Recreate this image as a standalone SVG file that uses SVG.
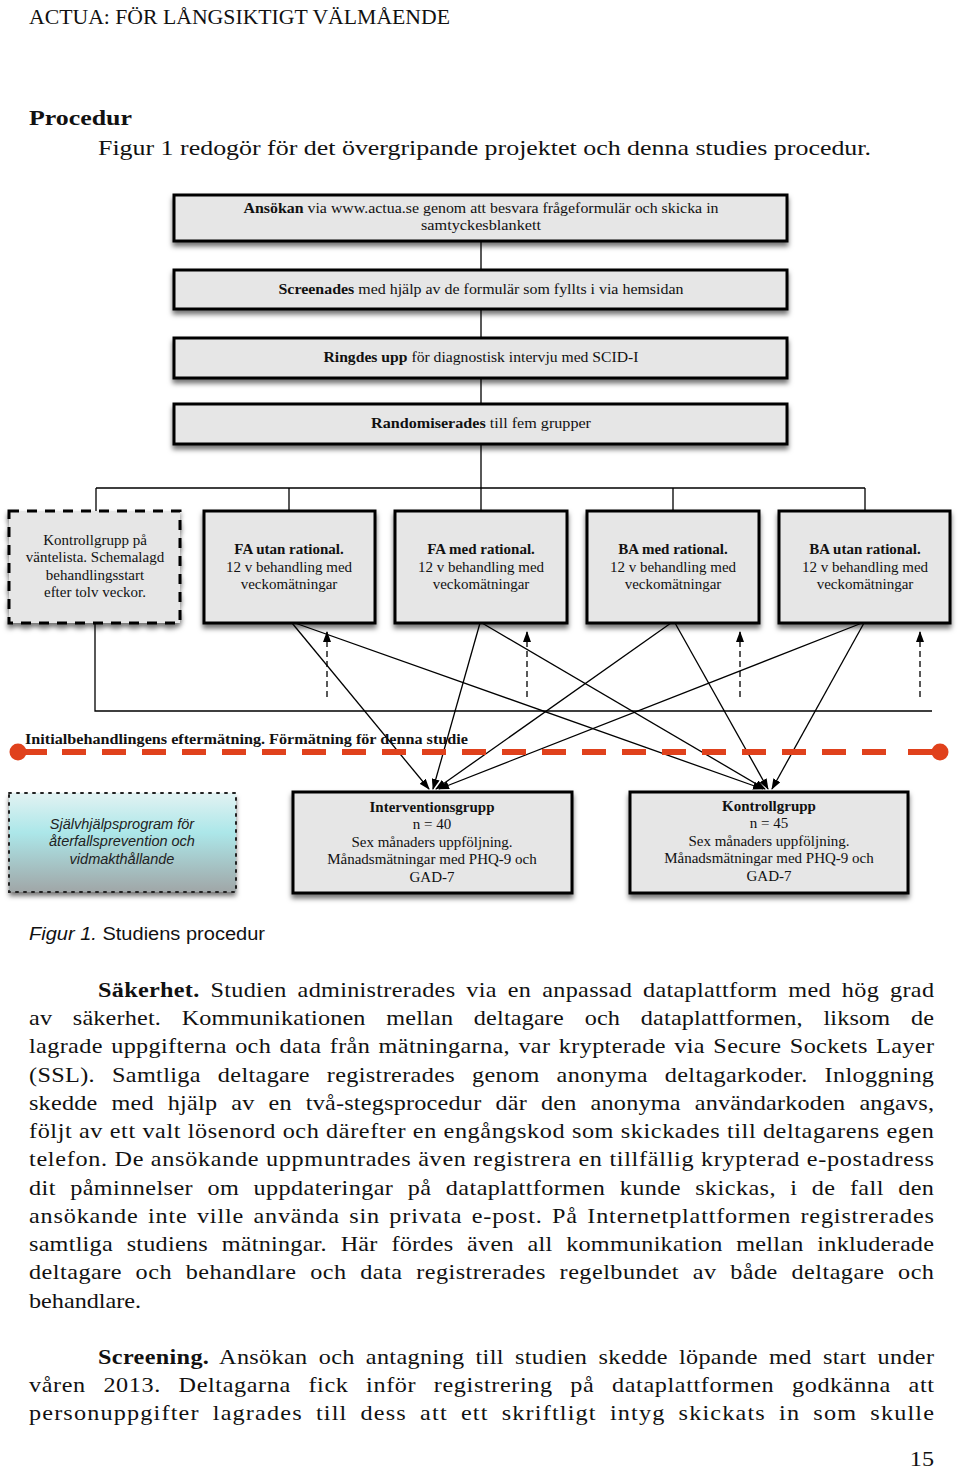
<svg xmlns="http://www.w3.org/2000/svg" width="960" height="1469" viewBox="0 0 960 1469">
<defs>
<filter id="sh" x="-10%" y="-20%" width="120%" height="150%">
<feDropShadow dx="0" dy="4" stdDeviation="2.5" flood-color="#000" flood-opacity="0.55"/>
</filter>
<linearGradient id="cy" x1="0" y1="0" x2="0" y2="1">
<stop offset="0" stop-color="#e2f2f2"/>
<stop offset="0.4" stop-color="#ace7e9"/>
<stop offset="1" stop-color="#a0a6a7"/>
</linearGradient>
<marker id="ah" markerWidth="11" markerHeight="8" refX="10" refY="4" orient="auto" markerUnits="userSpaceOnUse">
<path d="M0,0 L11,4 L0,8 Z" fill="#000"/>
</marker>
<style>
.box{fill:#e6e6e6;stroke:#000;stroke-width:3;filter:url(#sh)}
.dbox{fill:#e6e6e6;stroke:#000;stroke-width:3;stroke-dasharray:10 8;filter:url(#sh)}
.t{font-family:"Liberation Serif",serif;fill:#111}
.bt{font-size:15px;text-anchor:middle}
.gt{font-size:15px;text-anchor:middle}
.b{font-weight:bold}
.ln{stroke:#000;stroke-width:1.3;fill:none}
.ar{stroke:#000;stroke-width:1.3;fill:none;marker-end:url(#ah)}
.da{stroke:#000;stroke-width:1.3;fill:none;stroke-dasharray:6 4;marker-end:url(#ah)}
.body{font-family:"Liberation Serif",serif;font-size:22px;fill:#111}
</style>
</defs>
<rect width="960" height="1469" fill="#fff"/>

<text class="body" x="29" y="24" textLength="421" lengthAdjust="spacingAndGlyphs">ACTUA: FÖR LÅNGSIKTIGT VÄLMÅENDE</text>
<text class="body b" x="29" y="125" textLength="103" lengthAdjust="spacingAndGlyphs">Procedur</text>
<text class="body" x="98" y="155" textLength="773" lengthAdjust="spacingAndGlyphs">Figur 1 redogör för det övergripande projektet och denna studies procedur.</text>

<g id="connectors">
<path class="ln" d="M481,241 V270 M481,309 V338 M481,378 V404 M481,444 V488 M96,488 H865 M96,488 V511 M289,488 V510 M481,488 V510 M673,488 V510 M865,488 V510"/>
<path class="ln" d="M95,623 V711 H932"/>
<line class="ar" x1="292" y1="623" x2="429" y2="789"/>
<line class="ar" x1="295" y1="623" x2="763" y2="789"/>
<line class="ar" x1="480" y1="623" x2="433" y2="789"/>
<line class="ar" x1="482" y1="623" x2="765" y2="789"/>
<line class="ar" x1="671" y1="623" x2="436" y2="789"/>
<line class="ar" x1="675" y1="623" x2="768" y2="789"/>
<line class="ar" x1="862" y1="623" x2="439" y2="789"/>
<line class="ar" x1="864" y1="623" x2="772" y2="789"/>
<line class="da" x1="327" y1="697" x2="327" y2="632"/>
<line class="da" x1="527" y1="697" x2="527" y2="632"/>
<line class="da" x1="740" y1="697" x2="740" y2="632"/>
<line class="da" x1="920" y1="697" x2="920" y2="632"/>
</g>

<g id="timeline">
<line x1="18" y1="752" x2="47" y2="752" stroke="#e0411c" stroke-width="6"/>
<line x1="62" y1="752" x2="902" y2="752" stroke="#e0411c" stroke-width="6" stroke-dasharray="24 16"/>
<line x1="908" y1="752" x2="940" y2="752" stroke="#e0411c" stroke-width="6"/>
<circle cx="18" cy="752" r="8.5" fill="#e0411c"/>
<circle cx="940" cy="752" r="8.5" fill="#e0411c"/>
<text class="t b" x="25" y="744" font-size="14.5" textLength="443" lengthAdjust="spacingAndGlyphs">Initialbehandlingens eftermätning. Förmätning för denna studie</text>
</g>

<g id="n-ansokan">
<rect class="box" x="174" y="195" width="613" height="46"/>
<text class="t bt" x="481" y="213" textLength="475" lengthAdjust="spacingAndGlyphs"><tspan class="b">Ansökan</tspan> via www.actua.se genom att besvara frågeformulär och skicka in</text>
<text class="t bt" x="481" y="230" textLength="120" lengthAdjust="spacingAndGlyphs">samtyckesblankett</text>
</g>
<g id="n-screen">
<rect class="box" x="174" y="270" width="613" height="39"/>
<text class="t bt" x="481" y="294" textLength="405" lengthAdjust="spacingAndGlyphs"><tspan class="b">Screenades</tspan> med hjälp av de formulär som fyllts i via hemsidan</text>
</g>
<g id="n-ring">
<rect class="box" x="174" y="338" width="613" height="40"/>
<text class="t bt" x="481" y="362" textLength="315" lengthAdjust="spacingAndGlyphs"><tspan class="b">Ringdes upp</tspan> för diagnostisk intervju med SCID-I</text>
</g>
<g id="n-rand">
<rect class="box" x="174" y="404" width="613" height="40"/>
<text class="t bt" x="481" y="428" textLength="220" lengthAdjust="spacingAndGlyphs"><tspan class="b">Randomiserades</tspan> till fem grupper</text>
</g>

<g id="n-vantelista">
<rect class="dbox" x="9" y="511" width="171" height="112"/>
<text class="t gt" x="95" y="545">Kontrollgrupp på</text>
<text class="t gt" x="95" y="562">väntelista. Schemalagd</text>
<text class="t gt" x="95" y="580">behandlingsstart</text>
<text class="t gt" x="95" y="597">efter tolv veckor.</text>
</g>
<g id="n-fa-utan">
<rect class="box" x="204" y="511" width="171" height="112"/>
<text class="t gt b" x="289" y="554">FA utan rational.</text>
<text class="t gt" x="289" y="572">12 v behandling med</text>
<text class="t gt" x="289" y="589">veckomätningar</text>
</g>
<g id="n-fa-med">
<rect class="box" x="395" y="511" width="172" height="112"/>
<text class="t gt b" x="481" y="554">FA med rational.</text>
<text class="t gt" x="481" y="572">12 v behandling med</text>
<text class="t gt" x="481" y="589">veckomätningar</text>
</g>
<g id="n-ba-med">
<rect class="box" x="587" y="511" width="172" height="112"/>
<text class="t gt b" x="673" y="554">BA med rational.</text>
<text class="t gt" x="673" y="572">12 v behandling med</text>
<text class="t gt" x="673" y="589">veckomätningar</text>
</g>
<g id="n-ba-utan">
<rect class="box" x="779" y="511" width="171" height="112"/>
<text class="t gt b" x="865" y="554">BA utan rational.</text>
<text class="t gt" x="865" y="572">12 v behandling med</text>
<text class="t gt" x="865" y="589">veckomätningar</text>
</g>

<g id="n-sjalvhjalp">
<rect x="9" y="793" width="227" height="99" fill="url(#cy)" filter="url(#sh)"/>
<rect x="9" y="793" width="227" height="99" fill="none" stroke="#222" stroke-width="2" stroke-dasharray="2 6" stroke-linecap="round"/>
<g font-family="'Liberation Sans',sans-serif" font-style="italic" font-size="14.5" fill="#222" text-anchor="middle">
<text x="122" y="829">Självhjälpsprogram för</text>
<text x="122" y="846">återfallsprevention och</text>
<text x="122" y="864">vidmakthållande</text>
</g>
</g>

<g id="n-intervention">
<rect class="box" x="293" y="792" width="279" height="101"/>
<text class="t gt b" x="432" y="812">Interventionsgrupp</text>
<text class="t gt" x="432" y="829">n = 40</text>
<text class="t gt" x="432" y="847">Sex månaders uppföljning.</text>
<text class="t gt" x="432" y="864">Månadsmätningar med PHQ-9 och</text>
<text class="t gt" x="432" y="882">GAD-7</text>
</g>
<g id="n-kontroll">
<rect class="box" x="630" y="792" width="278" height="101"/>
<text class="t gt b" x="769" y="811">Kontrollgrupp</text>
<text class="t gt" x="769" y="828">n = 45</text>
<text class="t gt" x="769" y="846">Sex månaders uppföljning.</text>
<text class="t gt" x="769" y="863">Månadsmätningar med PHQ-9 och</text>
<text class="t gt" x="769" y="881">GAD-7</text>
</g>

<text x="29" y="940" font-family="'Liberation Sans',sans-serif" font-size="18" fill="#111" textLength="236" lengthAdjust="spacingAndGlyphs"><tspan font-style="italic">Figur 1.</tspan> Studiens procedur</text>

<g class="body" transform="scale(1.1 1)">
<text x="89.09" y="997" word-spacing="4.2" textLength="760" lengthAdjust="spacing"><tspan font-weight="bold">Säkerhet.</tspan> Studien administrerades via en anpassad dataplattform med hög grad</text>
<text x="26.36" y="1025" word-spacing="13.2" textLength="822.7" lengthAdjust="spacing">av säkerhet. Kommunikationen mellan deltagare och dataplattformen, liksom de</text>
<text x="26.36" y="1053" word-spacing="1.8" textLength="822.7" lengthAdjust="spacing">lagrade uppgifterna och data från mätningarna, var krypterade via Secure Sockets Layer</text>
<text x="26.36" y="1082" word-spacing="9.6" textLength="822.7" lengthAdjust="spacing">(SSL). Samtliga deltagare registrerades genom anonyma deltagarkoder. Inloggning</text>
<text x="26.36" y="1110" word-spacing="7" textLength="822.7" lengthAdjust="spacing">skedde med hjälp av en två-stegsprocedur där den anonyma användarkoden angavs,</text>
<text x="26.36" y="1138" word-spacing="0" textLength="822.7" lengthAdjust="spacing">följt av ett valt lösenord och därefter en engångskod som skickades till deltagarens egen</text>
<text x="26.36" y="1166" word-spacing="0" textLength="822.7" lengthAdjust="spacing">telefon. De ansökande uppmuntrades även registrera en tillfällig krypterad e-postadress</text>
<text x="26.36" y="1195" word-spacing="7.2" textLength="822.7" lengthAdjust="spacing">dit påminnelser om uppdateringar på dataplattformen kunde skickas, i de fall den</text>
<text x="26.36" y="1223" word-spacing="2.3" textLength="822.7" lengthAdjust="spacing">ansökande inte ville använda sin privata e-post. På Internetplattformen registrerades</text>
<text x="26.36" y="1251" word-spacing="6.8" textLength="822.7" lengthAdjust="spacing">samtliga studiens mätningar. Här fördes även all kommunikation mellan inkluderade</text>
<text x="26.36" y="1279" word-spacing="6.5" textLength="822.7" lengthAdjust="spacing">deltagare och behandlare och data registrerades regelbundet av både deltagare och</text>
<text x="26.36" y="1308">behandlare.</text>
<text x="89.09" y="1364" word-spacing="4.3" textLength="760" lengthAdjust="spacing"><tspan font-weight="bold">Screening.</tspan> Ansökan och antagning till studien skedde löpande med start under</text>
<text x="26.36" y="1392" word-spacing="10" textLength="822.7" lengthAdjust="spacing">våren 2013. Deltagarna fick inför registrering på dataplattformen godkänna att</text>
<text x="26.36" y="1420" word-spacing="5.4" textLength="822.7" lengthAdjust="spacing">personuppgifter lagrades till dess att ett skriftligt intyg skickats in som skulle</text>
<text x="849.1" y="1466" text-anchor="end">15</text>
</g>
</svg>
